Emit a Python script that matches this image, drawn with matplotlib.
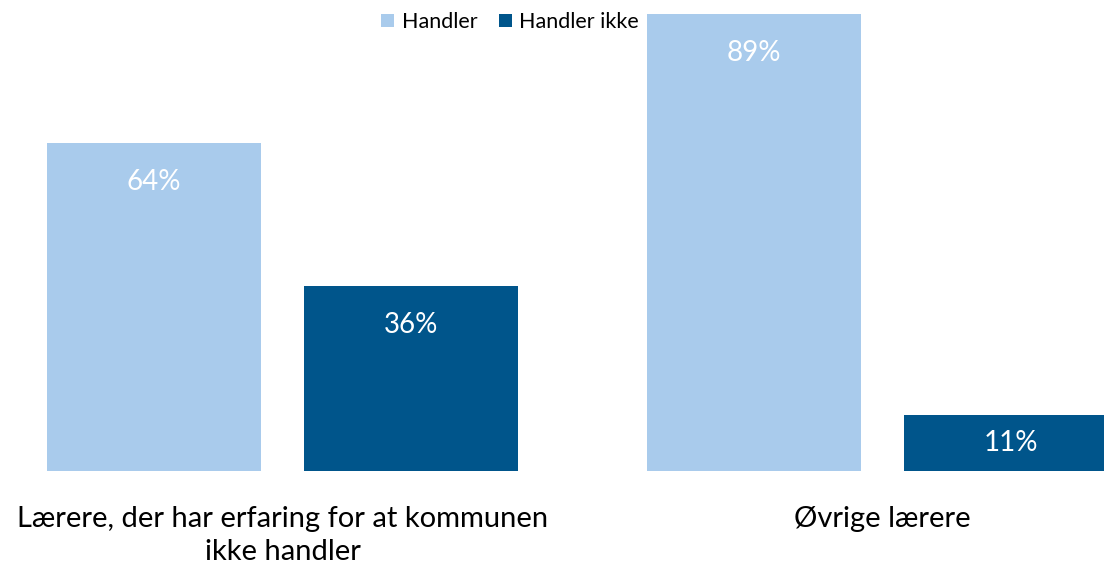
import matplotlib.pyplot as plt
import numpy as np

# data
kategorier = ["Lærere, der har erfaring for at kommunen\nikke handler", "Øvrige lærere"]
serier = ["Handler", "Handler ikke"]
handler = [64, 89]
handler_ikke = [36, 11]
farver = ["#A9CBEC", "#00558B"]

plt.rcParams['font.family'] = ['Lato', 'DejaVu Sans']

fig = plt.figure(figsize=(11.04, 5.64), dpi=100)
ax = fig.add_axes([0, 0.165, 1, 0.835])

x = np.arange(len(kategorier))
bredde = 0.357
forskyd = 0.2142

for i, (vals, navn) in enumerate([(handler, serier[0]), (handler_ikke, serier[1])]):
    pos = x + (forskyd if i else -forskyd)
    bars = ax.bar(pos, vals, bredde, color=farver[i], label=navn)
    for b, v in zip(bars, vals):
        # label inde i søjlen, tæt ved toppen
        ax.text(b.get_x() + b.get_width() / 2, max(v - 7.6, v / 2), f"{v}%",
                ha="center", va="center", color="white", fontsize=20)

ax.set_xlim(-0.471, 1.369)
ax.set_ylim(0, 91.8)
ax.set_xticks(x)
ax.set_xticklabels(kategorier, fontsize=21, linespacing=1.33)
ax.tick_params(axis="x", length=0, pad=25)
ax.set_yticks([])
for s in ax.spines.values():
    s.set_visible(False)

fig.legend(loc="center", bbox_to_anchor=(0.462, 0.961), ncol=2, frameon=False,
           fontsize=15.5, handlelength=0.6, handleheight=0.6, handletextpad=0.35,
           columnspacing=1.0)

fig.savefig("out.png", dpi=100)
